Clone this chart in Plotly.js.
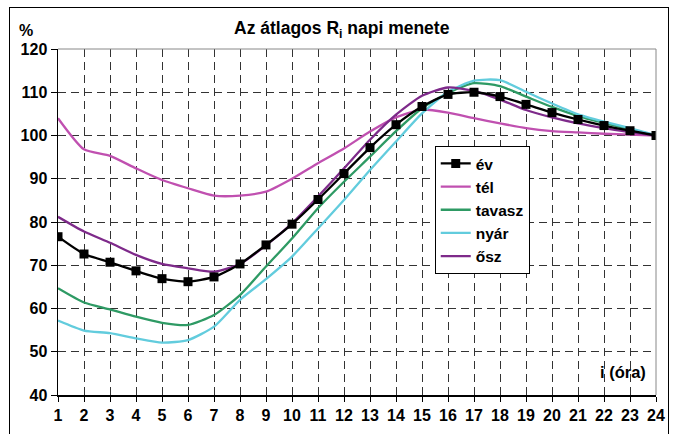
<!DOCTYPE html>
<html>
<head>
<meta charset="utf-8">
<script src="https://cdn.plot.ly/plotly-3.0.1.min.js"></script>
<style>
html,body{margin:0;padding:0;background:#fff;}
#wrap{position:relative;width:674px;height:434px;overflow:hidden;}
#chart{width:674px;height:434px;}
#frame{position:absolute;left:9px;top:7px;width:658px;height:440px;border:1.5px solid #000;pointer-events:none;}
</style>
</head>
<body>
<div id="wrap"><div id="chart"></div><div id="frame"></div></div>
<script>
const hours = [1,2,3,4,5,6,7,8,9,10,11,12,13,14,15,16,17,18,19,20,21,22,23,24];
const ev     = [76.6,72.6,70.7,68.7,66.9,66.2,67.3,70.3,74.7,79.5,85.2,91.2,97.2,102.5,106.7,109.5,110.0,109.0,107.2,105.3,103.7,102.3,101.1,100];
const tel    = [104.0,96.8,95.3,92.4,89.7,87.8,86.1,86.1,87.0,90.0,93.6,97.0,100.9,104.2,106.0,105.3,104.0,102.8,101.7,101.0,100.7,100.4,100.2,100];
const tavasz = [64.7,61.4,59.8,58.1,56.7,56.2,58.5,63.1,69.7,76.2,83.2,89.3,95.1,101.0,106.3,109.8,112.1,111.4,109.0,106.6,104.5,102.9,101.4,100];
const nyar   = [57.2,54.9,54.3,53.1,52.1,52.7,55.8,62.0,66.8,72.0,78.5,85.1,92.0,98.6,105.1,110.1,112.7,112.8,110.1,107.4,104.9,103.2,101.7,100];
const osz    = [81.2,77.8,75.2,72.4,70.3,69.3,68.5,70.3,74.6,79.7,85.9,92.4,99.0,104.8,109.2,111.1,110.3,108.3,105.9,104.2,102.8,101.7,100.8,100];
const names  = ["év","tél","tavasz","nyár","ősz"];
const yTicks = [40,50,60,70,80,90,100,110,120];

const colors = ["#000000","#C050B0","#2E9A64","#62CCDD","#7E2A8A"];
const series = [ev,tel,tavasz,nyar,osz];
const font = {family:"Liberation Sans, Arial, sans-serif", size:16, color:"#000"};

const traces = series.map((s,i)=>({
  x: hours, y: s, name: names[i], type:"scatter",
  mode: i===0 ? "lines+markers" : "lines",
  legendrank: i+1,
  line: {color: colors[i], width: 2.3, shape:"spline", smoothing:0.6},
  marker: {symbol:"square", size:9, color:"#000"}
}));
// draw év on top
const ordered = [traces[1],traces[2],traces[3],traces[4],traces[0]];

const grid = {gridcolor:"#333", griddash:"8px,5px", gridwidth:1};

const layout = {
  width:674, height:434,
  margin:{l:58, r:18, t:49, b:39},
  paper_bgcolor:"#fff", plot_bgcolor:"#fff",
  font: font,
  showlegend:true,
  legend:{
    x:0.63, y:0.72, xanchor:"left", yanchor:"top",
    bgcolor:"#fff", bordercolor:"#000", borderwidth:1,
    font:{family:font.family, size:15.5, color:"#000", weight:"bold"},
    traceorder:"normal", itemwidth:30, tracegroupgap:0
  },
  xaxis:Object.assign({
    range:[1,24], tickmode:"array", tickvals:hours, ticktext:hours.map(String),
    showgrid:true,
    showline:true, linecolor:"#000", linewidth:1.5,
    ticks:"outside", ticklen:5, tickcolor:"#000",
    zeroline:false, fixedrange:true,
    tickfont:{family:font.family, size:16, color:"#000", weight:"bold"}
  }, grid),
  yaxis:Object.assign({
    range:[40,120], tickmode:"array", tickvals:yTicks, ticktext:yTicks.map(String),
    showgrid:true,
    showline:true, linecolor:"#000", linewidth:1.5,
    ticks:"outside", ticklen:6, tickcolor:"#000",
    zeroline:false, fixedrange:true,
    tickfont:{family:font.family, size:16, color:"#000", weight:"bold"}
  }, grid),
  shapes:[
    {type:"line", xref:"paper", yref:"paper", x0:0, x1:1, y0:1, y1:1, line:{color:"#888", width:1}},
    {type:"line", xref:"paper", yref:"paper", x0:1, x1:1, y0:0, y1:1, line:{color:"#888", width:1}}
  ],
  annotations:[
    {text:"<b>Az átlagos R<sub>i</sub> napi menete</b>", xref:"paper", yref:"paper",
     x:0.475, y:1, yshift:6, xanchor:"center", yanchor:"bottom", showarrow:false,
     font:{family:font.family, size:17.5, color:"#000"}},
    {text:"<b>%</b>", xref:"paper", yref:"paper", x:0, xshift:-41, y:1, yshift:8,
     xanchor:"left", yanchor:"bottom", showarrow:false,
     font:{family:font.family, size:16, color:"#000"}},
    {text:"<b>i (óra)</b>", xref:"paper", yref:"paper", x:1, xshift:-8, y:0, yshift:12,
     xanchor:"right", yanchor:"bottom", showarrow:false,
     font:{family:font.family, size:16.5, color:"#000"}}
  ]
};

Plotly.newPlot("chart", ordered, layout, {displayModeBar:false, staticPlot:true});
</script>
</body>
</html>
